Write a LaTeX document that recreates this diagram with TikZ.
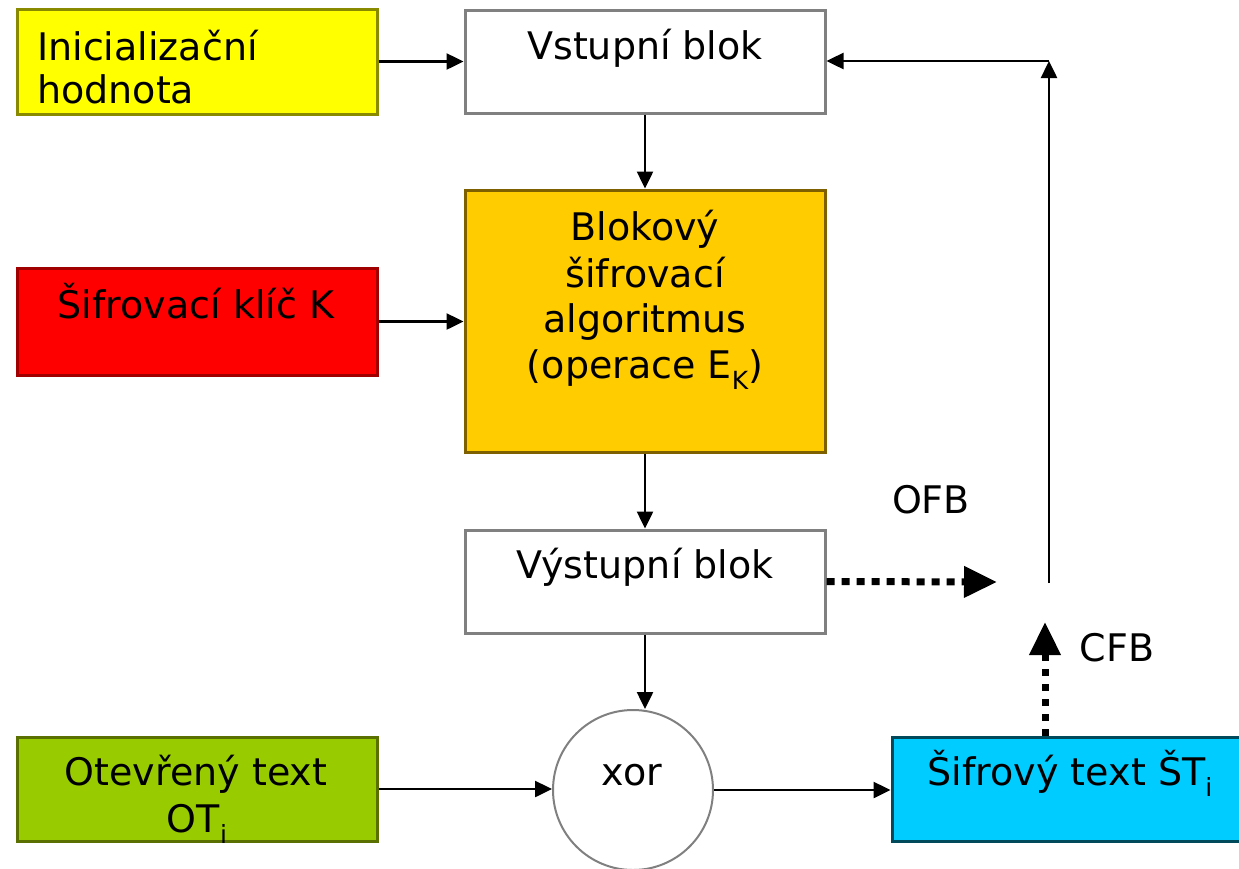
\documentclass[tikz,border=0pt]{standalone}
\usepackage{fontspec}
\setmainfont{DejaVu Sans}
\usetikzlibrary{arrows.meta}
\definecolor{iniyellow}{HTML}{FFFF00}
\definecolor{iniedge}{HTML}{8A8A00}
\definecolor{keyred}{HTML}{FF0000}
\definecolor{keyedge}{HTML}{A00000}
\definecolor{algoorange}{HTML}{FFCC00}
\definecolor{algoedge}{HTML}{7F6000}
\definecolor{ptgreen}{HTML}{99CC00}
\definecolor{ptedge}{HTML}{5A7000}
\definecolor{ctcyan}{HTML}{00CCFF}
\definecolor{ctedge}{HTML}{004A5C}
\definecolor{plainedge}{HTML}{808080}
\newcommand{\lowidx}[1]{\raisebox{-11pt}{\fontsize{25}{25}\selectfont #1}}
\tikzset{
  box/.style={rectangle, draw, line width=3pt, inner sep=0pt, minimum width=360pt},
  lbl/.style={font=\fontsize{38}{46}\selectfont, inner sep=0pt, anchor=base},
  flow/.style={line width=2.5pt, -{Triangle[length=17pt,width=16pt]}},
  mode/.style={line width=7pt, -{Triangle[length=33pt,width=30pt]}}
}
\begin{document}
\begin{tikzpicture}[x=1pt,y=-1pt]
\useasboundingbox (0,0) rectangle (1239,868);

% blocks
\node[box, fill=iniyellow, draw=iniedge, minimum height=105pt] (ini) at (197,61.5) {};
\node[box, fill=white, draw=plainedge, minimum height=103pt] (vstup) at (645,61.5) {};
\node[box, fill=algoorange, draw=algoedge, minimum height=262pt] (blok) at (645,321) {};
\node[box, fill=keyred, draw=keyedge, minimum height=107pt] (klic) at (197,321.5) {};
\node[box, fill=white, draw=plainedge, minimum height=103pt] (vyst) at (645,581.5) {};
\node[box, fill=ptgreen, draw=ptedge, minimum height=104pt] (otev) at (197,789) {};
\node[box, fill=ctcyan, draw=ctedge, minimum width=358pt, minimum height=104pt] (sif) at (1071,789) {};
\node[circle, draw=plainedge, line width=2pt, minimum size=160pt, inner sep=0pt] (xor) at (633,790) {};

% block texts
\node[lbl, anchor=base west] (ini1) at (37,60) {Inicializační};
\node[lbl, anchor=base west] (ini2) at (37,103) {hodnota};
\node[lbl] (vstupt) at (645,59) {Vstupní blok};
\node[lbl] (blok1) at (645,240) {Blokový};
\node[lbl] (blok2) at (645,287) {šifrovací};
\node[lbl] (blok3) at (645,332) {algoritmus};
\node[lbl] (blok4) at (645,378) {(operace E\lowidx{K})};
\node[lbl] (klict) at (196,318) {Šifrovací klíč K};
\node[lbl] (vystt) at (645,578) {Výstupní blok};
\node[lbl] (otev1) at (196,785) {Otevřený text};
\node[lbl] (otev2) at (197,832) {OT\lowidx{i}};
\node[lbl] (sift) at (1070,785) {Šifrový text ŠT\lowidx{i}};
\node[lbl] (xort) at (632,785) {xor};
\node[lbl] (ofb) at (931,513) {OFB};
\node[lbl] (cfb) at (1117,661) {CFB};

% free ends of the feedback paths
\coordinate (ofbend) at (997,582);
\coordinate (cfbend) at (1045,622);
\coordinate (fbbot) at (1049,583);
\coordinate (fbtop) at (1049,61);

% data flow
\draw[flow] (ini.east) -- (vstup.west);
\draw[flow] (vstup.south) -- (blok.north);
\draw[flow] (klic.east) -- (klic.east -| blok.west);
\draw[flow] (blok.south) -- (vyst.north);
\draw[flow] (vyst.south) -- (vyst.south |- xor.north);
\draw[flow] (otev.east) -- (otev.east -| xor.west);
\draw[flow] (xor.east) -- (xor.east -| sif.west);

% feedback modes
\draw[mode, dash pattern=on 8pt off 7pt] (vyst.east) -- (ofbend);
\draw[mode, dash pattern=on 7pt off 8pt] (sif.north -| cfbend) -- (cfbend);
\draw[flow] (fbbot) -- (fbtop);
\draw[flow] (fbtop) -- (fbtop -| vstup.east);
\end{tikzpicture}
\end{document}
